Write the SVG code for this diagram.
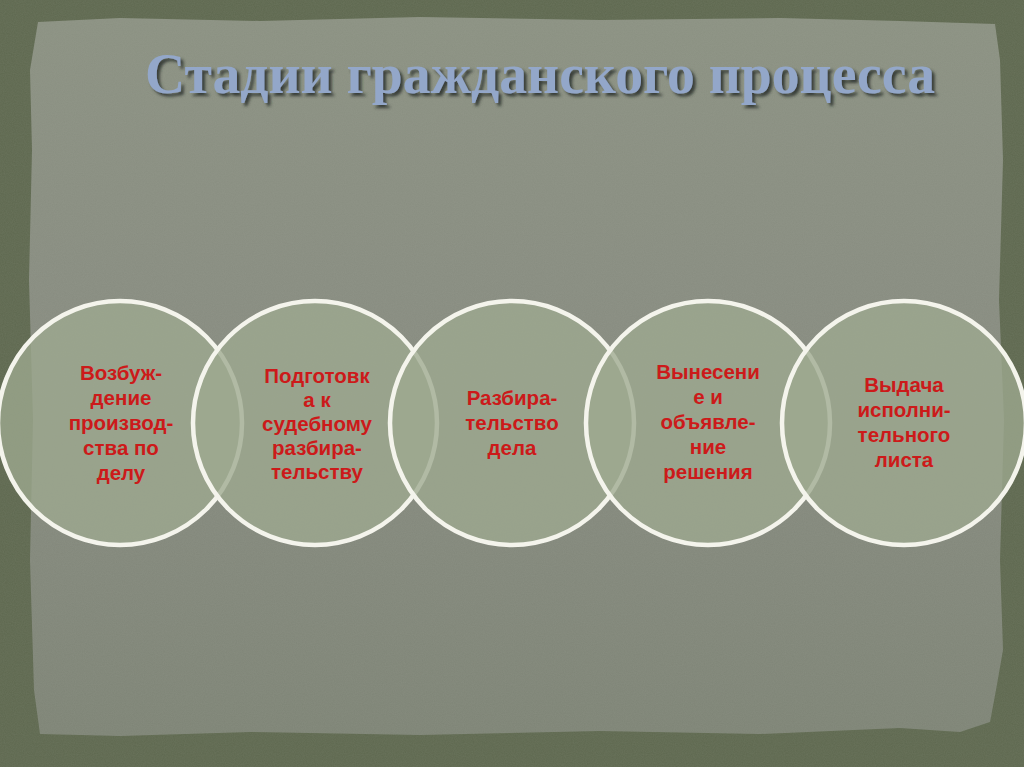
<svg xmlns="http://www.w3.org/2000/svg" width="1024" height="767" viewBox="0 0 1024 767">
<defs>
<style>
.t{font-family:"Liberation Sans","Arimo",sans-serif;font-weight:bold;font-size:20.5px;fill:#cc1a1a;text-anchor:middle}
.c{fill:#9ea98f;fill-opacity:0.78;stroke:#f4f4ec;stroke-width:4.5}
.title{font-family:"Liberation Serif","DejaVu Serif",serif;font-weight:bold;font-size:58px;fill:#93a7c9}
</style>
<filter id="sh" x="-5%" y="-30%" width="110%" height="160%">
<feGaussianBlur in="SourceAlpha" stdDeviation="1.5"/>
<feOffset dx="3" dy="3" result="b"/>
<feFlood flood-color="#2a302c" flood-opacity="0.85"/>
<feComposite in2="b" operator="in"/>
<feMerge><feMergeNode/><feMergeNode in="SourceGraphic"/></feMerge>
</filter>
<filter id="noise" x="0" y="0" width="100%" height="100%">
<feTurbulence type="fractalNoise" baseFrequency="0.9" numOctaves="2" seed="3"/>
<feColorMatrix type="matrix" values="0 0 0 0 0.5  0 0 0 0 0.52  0 0 0 0 0.45  0 0 0 0.12 0"/>
</filter>
<linearGradient id="paper" x1="0" y1="0" x2="0" y2="1">
<stop offset="0" stop-color="#8b9182"/>
<stop offset="0.5" stop-color="#878b80"/>
<stop offset="1" stop-color="#7e8476"/>
</linearGradient>
</defs>
<rect x="0" y="0" width="1024" height="767" fill="#5e684f"/>
<path d="M38,22 L120,18 L260,21 L420,17 L600,20 L780,18 L900,21 L995,24 L1000,60 L1003,160 L999,300 L1004,420 L1000,560 L1003,650 L996,690 L990,722 L960,732 L900,728 L760,734 L600,731 L420,735 L250,732 L120,736 L40,734 L34,690 L30,560 L33,420 L29,280 L32,150 L30,70 Z" fill="url(#paper)"/>
<rect x="0" y="0" width="1024" height="767" filter="url(#noise)"/>
<text class="title" x="540" y="93" text-anchor="middle" textLength="790" lengthAdjust="spacingAndGlyphs" filter="url(#sh)">Стадии гражданского процесса</text>
<g id="n1"><circle class="c" cx="120" cy="423" r="122"/>
<text class="t"><tspan x="121" y="380">Возбуж-</tspan><tspan x="121" y="405">дение</tspan><tspan x="121" y="430">производ-</tspan><tspan x="121" y="455">ства по</tspan><tspan x="121" y="480">делу</tspan></text></g>
<g id="n2"><circle class="c" cx="315" cy="423" r="122"/>
<text class="t"><tspan x="317" y="383">Подготовк</tspan><tspan x="317" y="407">а к</tspan><tspan x="317" y="431">судебному</tspan><tspan x="317" y="455">разбира-</tspan><tspan x="317" y="479">тельству</tspan></text></g>
<g id="n3"><circle class="c" cx="512" cy="423" r="122"/>
<text class="t"><tspan x="512" y="405">Разбира-</tspan><tspan x="512" y="430">тельство</tspan><tspan x="512" y="455">дела</tspan></text></g>
<g id="n4"><circle class="c" cx="708" cy="423" r="122"/>
<text class="t"><tspan x="708" y="379">Вынесени</tspan><tspan x="708" y="404">е и</tspan><tspan x="708" y="429">объявле-</tspan><tspan x="708" y="454">ние</tspan><tspan x="708" y="479">решения</tspan></text></g>
<g id="n5"><circle class="c" cx="904" cy="423" r="122"/>
<text class="t"><tspan x="904" y="392">Выдача</tspan><tspan x="904" y="417">исполни-</tspan><tspan x="904" y="442">тельного</tspan><tspan x="904" y="467">листа</tspan></text></g>
<g id="connectors"></g>
</svg>
